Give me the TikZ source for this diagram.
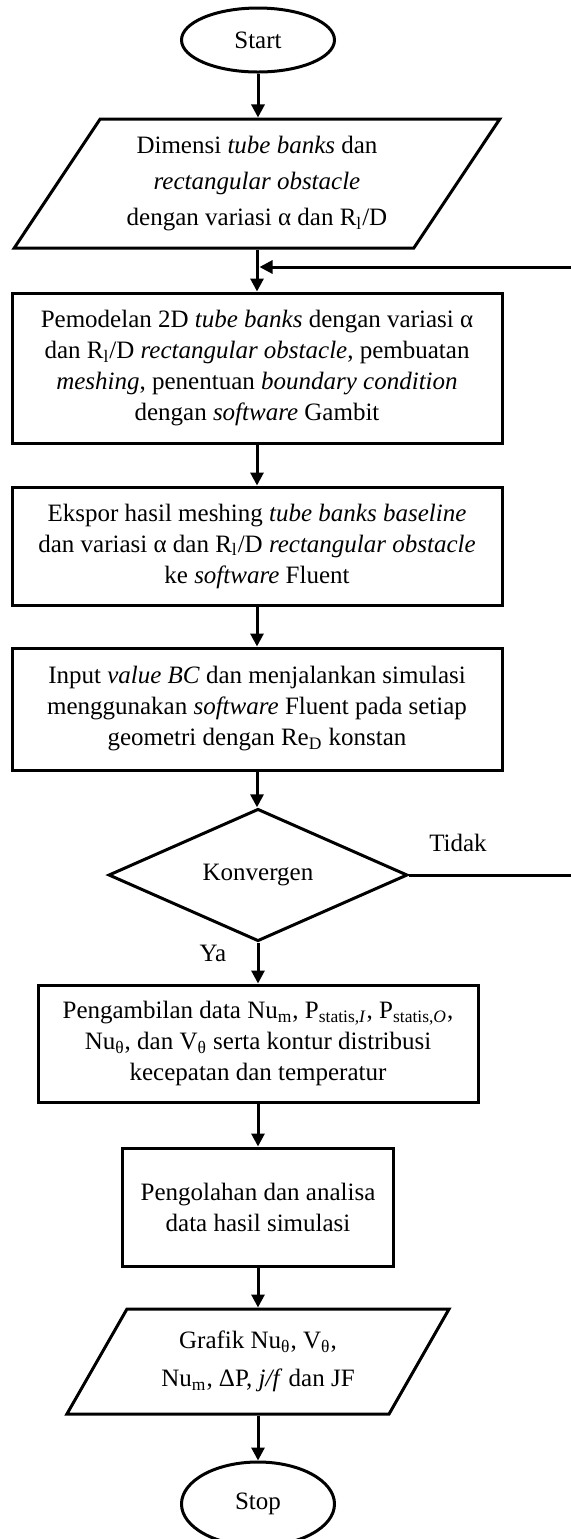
\documentclass[tikz,border=0pt]{standalone}
\usepackage{fontspec}
\setmainfont{Liberation Serif}
\usetikzlibrary{shapes.geometric,arrows.meta,calc}
\begin{document}
\begin{tikzpicture}[x=0.5pt,y=-0.5pt,
  every node/.style={font=\fontsize{12.5}{15.5}\selectfont, inner sep=0pt},
  shp/.style={draw, line width=1.5pt, align=center, line join=miter},
  terminal/.style={shp, ellipse, minimum width=76.5pt, minimum height=31pt},
  procbox/.style={shp, rectangle, minimum width=245pt},
  iobox/.style={shp, trapezium, trapezium stretches=true},
  decision/.style={shp, diamond, minimum width=149.5pt, minimum height=62pt},
  flow/.style={line width=1.5pt, -{Triangle[length=6.5pt,width=6.5pt]}},
  conn/.style={line width=1.5pt},
  lbl/.style={font=\fontsize{12.5}{15.5}\selectfont}]
\useasboundingbox (0,0) rectangle (571,1539);

\node[terminal, minimum height=32pt] (start) at (258,40) {Start};

\node[iobox, minimum width=243.5pt, minimum height=64.5pt,
      trapezium left angle=53, trapezium right angle=127,
      font=\fontsize{12.5}{18}\selectfont] (p1) at (257,183.5)
 {Dimensi \textit{tube banks} dan\\
  \textit{rectangular obstacle}\\
  dengan variasi α dan R\textsubscript{l}/D};

\node[procbox, minimum height=75pt] (b2) at (257,368)
 {Pemodelan 2D \textit{tube banks} dengan variasi α\\
  dan R\textsubscript{l}/D \textit{rectangular obstacle}, pembuatan\\
  \textit{meshing}, penentuan \textit{boundary condition}\\
  dengan \textit{software} Gambit};

\node[procbox, minimum height=59pt] (b3) at (257,546)
 {Ekspor hasil meshing \textit{tube banks baseline}\\
  dan variasi α dan R\textsubscript{l}/D \textit{rectangular obstacle}\\
  ke \textit{software} Fluent};

\node[procbox, minimum height=61pt] (b4) at (257,709)
 {Input \textit{value BC} dan menjalankan simulasi\\
  menggunakan \textit{software} Fluent pada setiap\\
  geometri dengan Re\textsubscript{D} konstan};

\node[decision] (d) at (258,875) {Konvergen};

\node[procbox, minimum width=220pt, minimum height=58.5pt] (b5) at (258,1043.5)
 {Pengambilan data Nu\textsubscript{m}, P\textsubscript{statis,\textit{I}}, P\textsubscript{statis,\textit{O}},\\
  Nu\textsubscript{θ}, dan V\textsubscript{θ} serta kontur distribusi\\
  kecepatan dan temperatur};

\node[procbox, minimum width=135.5pt, minimum height=59pt] (b6) at (258,1207)
 {Pengolahan dan analisa\\ data hasil simulasi};

\node[iobox, minimum width=191.5pt, minimum height=52.5pt,
      trapezium left angle=54, trapezium right angle=126,
      font=\fontsize{12.5}{19}\selectfont] (p2) at (258,1361.5)
 {Grafik Nu\textsubscript{θ}, V\textsubscript{θ},\\
  Nu\textsubscript{m}, ΔP, \textit{j/f} dan JF};

\node[terminal, minimum height=42pt] (stop) at (258,1504) {Stop};

\node[lbl] (tidak) at (458,843) {Tidak};
\node[lbl] (ya) at (213,953) {Ya};

\coordinate (join) at (259.5,267);
\coordinate (rr) at (578,0);

\draw[flow] (start.south) -- (start.south |- p1.north);
\draw[flow] (p1.south) -- (p1.south |- b2.north);
\draw[flow] (b2.south) -- (b2.south |- b3.north);
\draw[flow] (b3.south) -- (b3.south |- b4.north);
\draw[flow] (b4.south) -- (b4.south |- d.north);
\draw[flow] (d.south) -- (d.south |- b5.north);
\draw[flow] (b5.south) -- (b5.south |- b6.north);
\draw[flow] (b6.south) -- (b6.south |- p2.north);
\draw[flow] (p2.south) -- (p2.south |- stop.north);
\draw[conn] (d.east) -- (d.east -| rr) -- (rr |- join);
\draw[flow] (rr |- join) -- (join);
\end{tikzpicture}
\end{document}
